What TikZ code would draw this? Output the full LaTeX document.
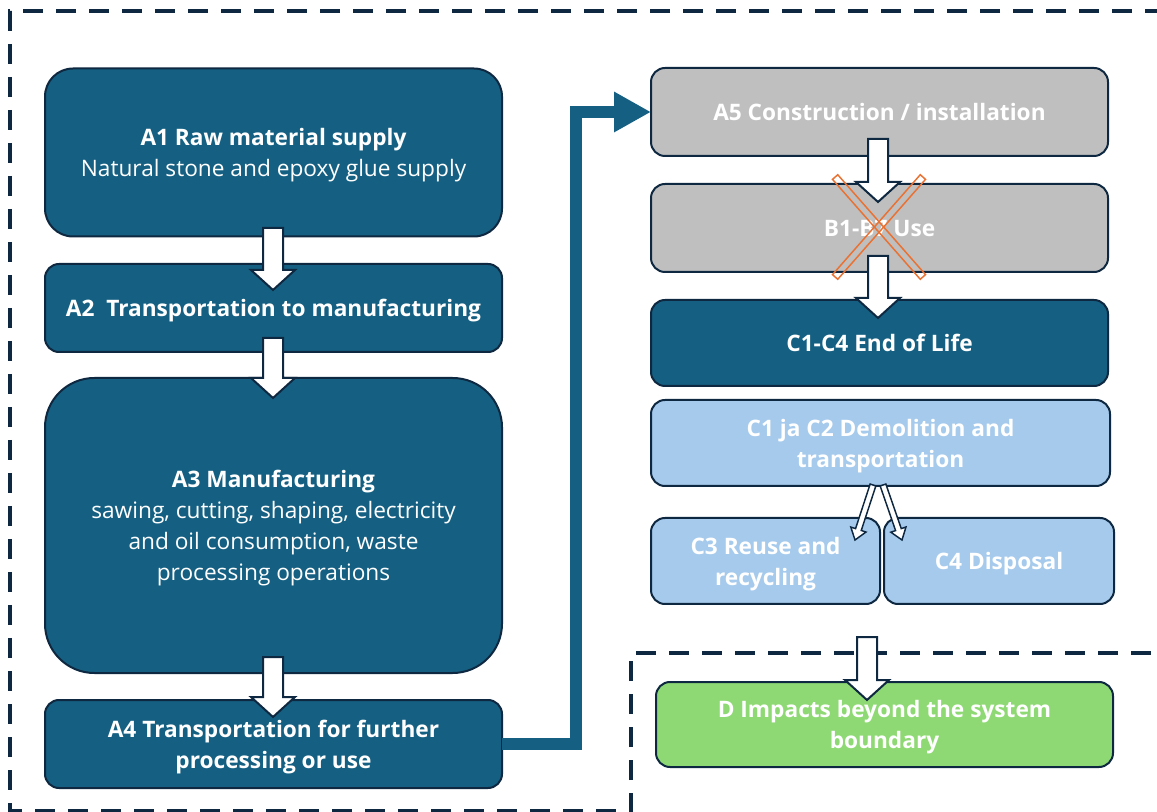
\documentclass[tikz,border=0pt]{standalone}
\usepackage{fontspec}
\setmainfont{Open Sans}[Ligatures=NoCommon]
\usetikzlibrary{arrows.meta,calc}
\definecolor{dkblue}{HTML}{156082}
\definecolor{navy}{HTML}{0E2841}
\definecolor{greyb}{HTML}{BFBFBF}
\definecolor{ltblue}{HTML}{A6CAEC}
\definecolor{greenb}{HTML}{8ED973}
\definecolor{orng}{HTML}{E97132}
\tikzset{
  box/.style={draw=navy, line width=1.5pt, rounded corners=10.5pt, text=white,
    align=center, inner sep=0pt, outer sep=0pt, text depth=0pt,
    font=\fontsize{17}{23.25}\selectfont\bfseries},
  blkarrow/.style={draw=navy, fill=white, line width=1.5pt, line join=miter},
  thinarrow/.style={draw=navy, fill=white, line width=1.1pt, line join=miter},
  bound/.style={draw=navy, line width=3pt, dash pattern=on 15pt off 9.75pt},
  xbar/.style={draw=orng, line width=1.1pt, minimum width=99.75pt, minimum height=5.25pt, inner sep=0pt}
}
\newcommand\vdown[3]{\draw[blkarrow] ({#1-10},#2) -- ({#1+10},#2) -- ({#1+10},{#3-20}) -- ({#1+22},{#3-20}) -- (#1,#3) -- ({#1-22},{#3-20}) -- ({#1-10},{#3-20}) -- cycle;}
\begin{document}
\begin{tikzpicture}[x=0.75pt, y=-0.75pt]
\useasboundingbox (0,0) rectangle (1157,812);
% boundary
\draw[bound] (1165,11) -- (10,11) -- (10,811) -- (631,811) -- (631,653) -- (1165,653);
% left column
\node[box, fill=dkblue, minimum width=342.75pt, minimum height=126pt, rounded corners=21pt] (A1) at (273.5,152.5)
  {A1 Raw material supply\\\mdseries Natural stone and epoxy glue supply};
\node[box, fill=dkblue, minimum width=342.75pt, minimum height=66pt] (A2) at (273.5,308)
  {A2\ \ Transportation to manufacturing};
\node[box, fill=dkblue, minimum width=342.75pt, minimum height=221.25pt, rounded corners=37pt] (A3) at (273.5,525.5)
  {A3 Manufacturing\\\mdseries sawing, cutting, shaping, electricity\\\mdseries and oil consumption, waste\\\mdseries processing operations};
\node[box, fill=dkblue, minimum width=342.75pt, minimum height=66pt] (A4) at (273.5,744)
  {A4 Transportation for further\\processing or use};
% right column
\node[box, fill=greyb, minimum width=342.75pt, minimum height=66pt] (A5) at (879.5,112)
  {A5 Construction / installation};
\node[box, fill=greyb, minimum width=342.75pt, minimum height=66pt] (B) at (879.5,228)
  {B1-B7 Use};
\node[box, fill=dkblue, minimum width=342.75pt, minimum height=64.5pt] (C) at (879.5,343)
  {C1-C4 End of Life};
\node[box, fill=ltblue, minimum width=344.25pt, minimum height=64.5pt] (C12) at (880.5,443)
  {C1 ja C2 Demolition and\\transportation};
\node[box, fill=ltblue, minimum width=171.75pt, minimum height=64.5pt] (C3) at (765.5,561)
  {C3 Reuse and\\recycling};
\node[box, fill=ltblue, minimum width=172.5pt, minimum height=64.5pt] (C4) at (999,561)
  {C4 Disposal};
\node[box, fill=greenb, minimum width=342.75pt, minimum height=63.75pt] (D) at (884.5,724.5)
  {D Impacts beyond the system\\boundary};
% block arrows
\vdown{273}{228}{290}
\vdown{273}{338}{398}
\vdown{273}{657}{717}
\vdown{878}{139}{202}
\vdown{878}{256}{318}
\vdown{867}{637}{700}
% thin slanted arrows
\draw[thinarrow] (875.85,485.93) -- (861.25,530.48) -- (866.0,532.04) -- (855,540) -- (850.8,527.06) -- (855.55,528.62) -- (870.15,484.07) -- cycle;
\draw[thinarrow] (885.84,484.02) -- (901.25,528.62) -- (905.97,526.99) -- (902,540) -- (890.85,532.21) -- (895.57,530.58) -- (880.16,485.98) -- cycle;
% orange cross
\node[xbar, rotate=-48.7] (X1) at (879,227) {};
\node[xbar, rotate=48.7] (X2) at (879,227) {};
% elbow arrow
\draw[dkblue, line width=9pt, line join=miter, -{Triangle[width=28.5pt,length=27.75pt]}]
  (A4.east) -- (576,744) |- (A5.west);
\end{tikzpicture}
\end{document}
